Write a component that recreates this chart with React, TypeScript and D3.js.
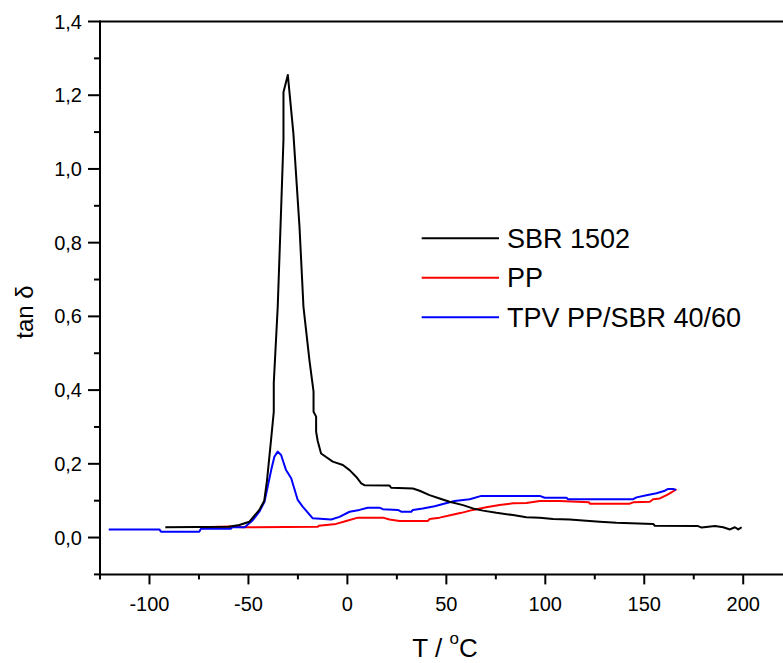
import React from "react";
import * as d3 from "d3";

// SBR 1502 (black)
const sbrT = [-92, -60, -54.6, -49.5, -44.5, -42, -40.6, -38.5, -37.2, -37.2, -35.2, -33.5, -32.3, -32.3, -30.1, -27.3, -24.2, -22.2, -19.2, -17.1, -17.1, -15.8, -15.8, -15, -13.3, -7.4, -2.3, 1.1, 4.4, 7, 8.6, 21.3, 22.1, 33.1, 36.5, 41.5, 46.6, 51.6, 58.4, 63.4, 68.5, 75.3, 83.7, 90.4, 97.2, 103.9, 112.3, 119, 127.5, 136, 154.5, 155.3, 177.2, 179, 185.7, 189.9, 193.3, 195.8, 197.5, 199.2];
const sbrV = [0.028, 0.029, 0.034, 0.043, 0.075, 0.1, 0.156, 0.269, 0.341, 0.419, 0.626, 0.889, 1.079, 1.208, 1.255, 1.097, 0.843, 0.626, 0.482, 0.396, 0.341, 0.328, 0.287, 0.262, 0.228, 0.206, 0.197, 0.183, 0.165, 0.147, 0.142, 0.141, 0.135, 0.133, 0.127, 0.115, 0.106, 0.097, 0.088, 0.079, 0.073, 0.067, 0.061, 0.055, 0.054, 0.05, 0.049, 0.046, 0.043, 0.04, 0.037, 0.032, 0.031, 0.027, 0.031, 0.028, 0.022, 0.028, 0.022, 0.028];

// PP (red)
const ppT = [-74, -59.6, -52.9, -15, -14.5, -5.7, -0.6, 5.3, 17.9, 21.3, 26.4, 40.7, 41.5, 46.6, 52.5, 57.6, 63.4, 70.2, 76.9, 83.7, 90.4, 97.2, 107.3, 122.1, 122.5, 142.7, 144.4, 152.8, 154.5, 157.9, 161.3, 162.9, 166.3];
const ppV = [0.028, 0.03, 0.028, 0.029, 0.032, 0.037, 0.045, 0.054, 0.054, 0.049, 0.045, 0.045, 0.05, 0.054, 0.061, 0.067, 0.075, 0.082, 0.088, 0.093, 0.094, 0.099, 0.099, 0.0955, 0.092, 0.092, 0.0955, 0.097, 0.104, 0.106, 0.115, 0.12, 0.131];

// TPV PP/SBR 40/60 (blue)
const tpvT = [-120.6, -95, -94.2, -74.8, -74, -58.8, -58.2, -52, -51.2, -47.8, -44.5, -41.9, -40.3, -38.5, -36.9, -35.2, -33.5, -31, -28.4, -25.1, -22.6, -17.5, -8.2, -4, 1.1, 6.1, 10.3, 16.2, 17.9, 25.5, 27.2, 32.3, 33.1, 38.1, 44.1, 48.3, 54.2, 61.8, 67.7, 97.2, 99.7, 110.7, 111.5, 144.4, 146.1, 151.1, 156.2, 160.4, 162.1, 164.6, 166];
const tpvV = [0.022, 0.022, 0.016, 0.016, 0.024, 0.024, 0.028, 0.028, 0.031, 0.047, 0.07, 0.097, 0.138, 0.183, 0.219, 0.233, 0.224, 0.183, 0.161, 0.102, 0.084, 0.052, 0.049, 0.056, 0.07, 0.075, 0.081, 0.081, 0.077, 0.075, 0.07, 0.07, 0.075, 0.079, 0.085, 0.091, 0.099, 0.104, 0.113, 0.113, 0.108, 0.108, 0.104, 0.104, 0.109, 0.115, 0.12, 0.127, 0.132, 0.132, 0.129];

const seriesNames = ["SBR 1502", "PP", "TPV PP/SBR 40/60"];
const seriesColors = ["#000000", "#ff0000", "#0000ff"];

const xMajorTicks = [-100, -50, 0, 50, 100, 150, 200];
const xMinorTicks = [-125, -75, -25, 25, 75, 125, 175, 225];
const yMajorTicks = [0, 0.2, 0.4, 0.6, 0.8, 1.0, 1.2, 1.4];
const yMinorTicks = [-0.1, 0.1, 0.3, 0.5, 0.7, 0.9, 1.1, 1.3];

const W = 783;
const H = 663;
const FONT = "'Liberation Sans', Arial, sans-serif";

export default function App() {
  const x = d3.scaleLinear().domain([-125, 225]).range([100, 792.7]);
  const y = d3.scaleLinear().domain([-0.1, 1.4]).range([574.4, 21.5]);

  const line = d3
    .line<[number, number]>()
    .x((d) => x(d[0]))
    .y((d) => y(d[1]));

  const data: [number, number][][] = [
    sbrT.map((t, i) => [t, sbrV[i]]),
    ppT.map((t, i) => [t, ppV[i]]),
    tpvT.map((t, i) => [t, tpvV[i]]),
  ];

  const fmt = (v: number) => v.toFixed(1).replace(".", ",");
  const x0 = x.range()[0];
  const yBottom = y.range()[0];
  const yTop = y.range()[1];

  const legendX1 = 421.7;
  const legendX2 = 499;
  const legendY = [238.3, 277.7, 317.3];

  return (
    <svg
      width={W}
      height={H}
      style={{ position: "absolute", left: 0, top: 0, background: "#fff" }}
      fontFamily={FONT}
    >
      <rect x={0} y={0} width={W} height={H} fill="#fff" />
      {/* data lines */}
      {[1, 2, 0].map((i) => (
        <path
          key={i}
          d={line(data[i]) || ""}
          fill="none"
          stroke={seriesColors[i]}
          strokeWidth={2}
          strokeLinejoin="round"
        />
      ))}
      {/* axes */}
      <line x1={x0} x2={W} y1={yBottom} y2={yBottom} stroke="#000" strokeWidth={2} />
      <line x1={x0} x2={W} y1={yTop} y2={yTop} stroke="#000" strokeWidth={2} />
      <line x1={x0} x2={x0} y1={yTop - 1} y2={yBottom + 1} stroke="#000" strokeWidth={2} />
      {xMajorTicks.map((t) => (
        <g key={"xm" + t}>
          <line x1={x(t)} x2={x(t)} y1={yBottom} y2={yBottom + 10} stroke="#000" strokeWidth={2} />
          <text x={x(t)} y={610.5} fontSize={20} textAnchor="middle" fill="#000">
            {t}
          </text>
        </g>
      ))}
      {xMinorTicks.map((t) => (
        <line key={"xn" + t} x1={x(t)} x2={x(t)} y1={yBottom} y2={yBottom + 5} stroke="#000" strokeWidth={2} />
      ))}
      {yMajorTicks.map((v) => (
        <g key={"ym" + v}>
          <line x1={x0 - 12} x2={x0} y1={y(v)} y2={y(v)} stroke="#000" strokeWidth={2} />
          <text x={82} y={y(v) + 7} fontSize={20} textAnchor="end" fill="#000">
            {fmt(v)}
          </text>
        </g>
      ))}
      {yMinorTicks.map((v) => (
        <line key={"yn" + v} x1={x0 - 6} x2={x0} y1={y(v)} y2={y(v)} stroke="#000" strokeWidth={2} />
      ))}
      {/* axis titles */}
      <text x={445} y={657} fontSize={26} textAnchor="middle" fill="#000">
        T /{" "}
        <tspan fontSize={17} dy={-13}>o</tspan>
        <tspan dy={13}>C</tspan>
      </text>
      <text
        transform={`translate(33, 312) rotate(-90)`}
        fontSize={24}
        textAnchor="middle"
        fill="#000"
      >
        tan δ
      </text>
      {/* legend */}
      {seriesNames.map((n, i) => (
        <g key={n}>
          <line x1={legendX1} x2={legendX2} y1={legendY[i]} y2={legendY[i]} stroke={seriesColors[i]} strokeWidth={2} />
          <text x={507} y={legendY[i] + 9.5} fontSize={27} fill="#000">
            {n}
          </text>
        </g>
      ))}
    </svg>
  );
}
